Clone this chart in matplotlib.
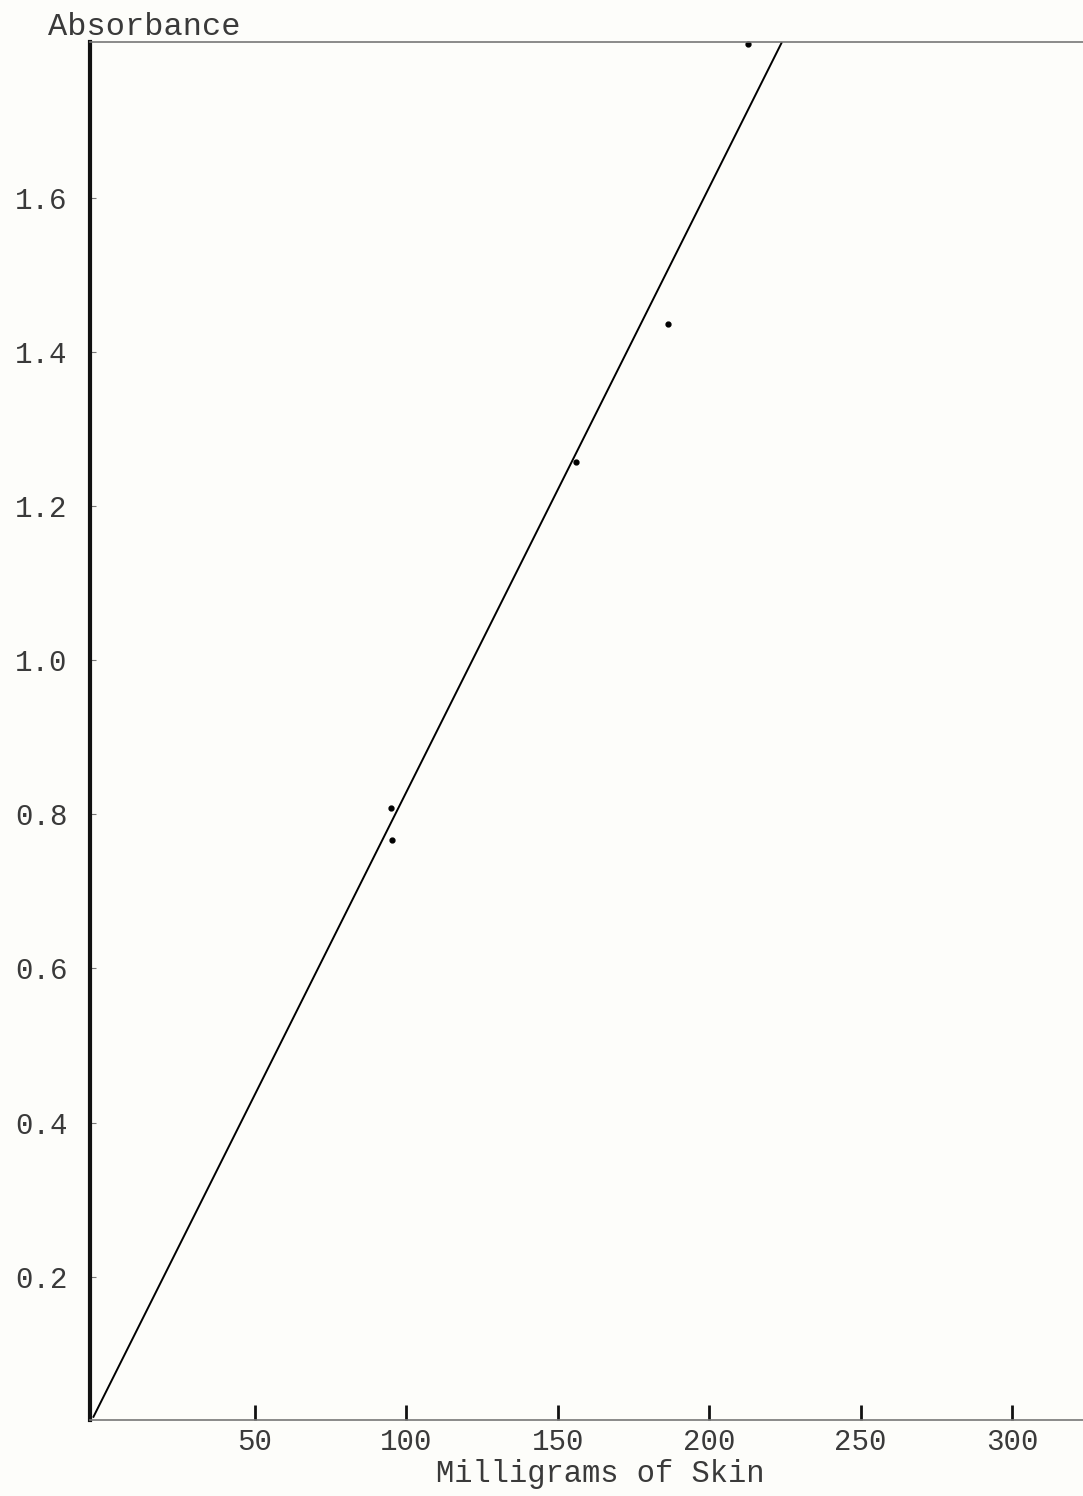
import matplotlib.pyplot as plt

# measured points (mg of skin, absorbance)
mg = [95.0, 95.2, 156.0, 186.4, 212.8]
absorbance = [0.808, 0.766, 1.257, 1.436, 1.800]

# drawn straight line (end points)
fit_x = [-3.5, 224.0]
fit_y = [0.017, 1.802]

xticks = [50, 100, 150, 200, 250, 300]
yticks = [0.2, 0.4, 0.6, 0.8, 1.0, 1.2, 1.4, 1.6]
ytick_labels = ["0.2", "0.4", "0.6", "0.8", "1.0", "1.2", "1.4", "1.6"]

font = "Liberation Mono"
ink = "#3a3a3a"

fig = plt.figure(figsize=(10.83, 14.96), dpi=100)
fig.patch.set_facecolor("#fdfdfa")
ax = fig.add_axes([90 / 1083, 1 - 1420 / 1496, 1 - 90 / 1083, (1420 - 42) / 1496])
ax.set_facecolor("#fdfdfa")

ax.plot(fit_x, fit_y, color="black", lw=1.4, solid_capstyle="butt")
ax.plot(mg, absorbance, "o", color="black", ms=3.5, clip_on=False)

ax.set_xlim(-4.5, 323.4)
ax.set_ylim(0.014, 1.802)

ax.set_xticks(xticks)
ax.set_xticklabels([str(v) for v in xticks], fontfamily=font, fontsize=21, color=ink)
ax.set_yticks(yticks)
ax.set_yticklabels(ytick_labels, fontfamily=font, fontsize=21, color=ink)

ax.tick_params(axis="x", direction="in", length=11, width=2, color="#111", pad=6)
ax.tick_params(axis="y", direction="in", length=4, width=0.8, color="#777", pad=16)

ax.spines["left"].set_linewidth(3)
ax.spines["left"].set_color("#111")
for side in ["bottom", "top"]:
    ax.spines[side].set_linewidth(1.2)
    ax.spines[side].set_color("#777")
    ax.spines[side].set_linestyle((0, (2, 1)))
ax.spines["right"].set_visible(False)

fig.text(48 / 1083, 1 - 27 / 1496, "Absorbance", fontfamily=font, fontsize=23,
         color=ink, ha="left", va="center")
fig.text(600 / 1083, 1 - 1474 / 1496, "Milligrams of Skin", fontfamily=font,
         fontsize=22, color=ink, ha="center", va="center")

fig.savefig("out.png", dpi=100, facecolor=fig.get_facecolor())
